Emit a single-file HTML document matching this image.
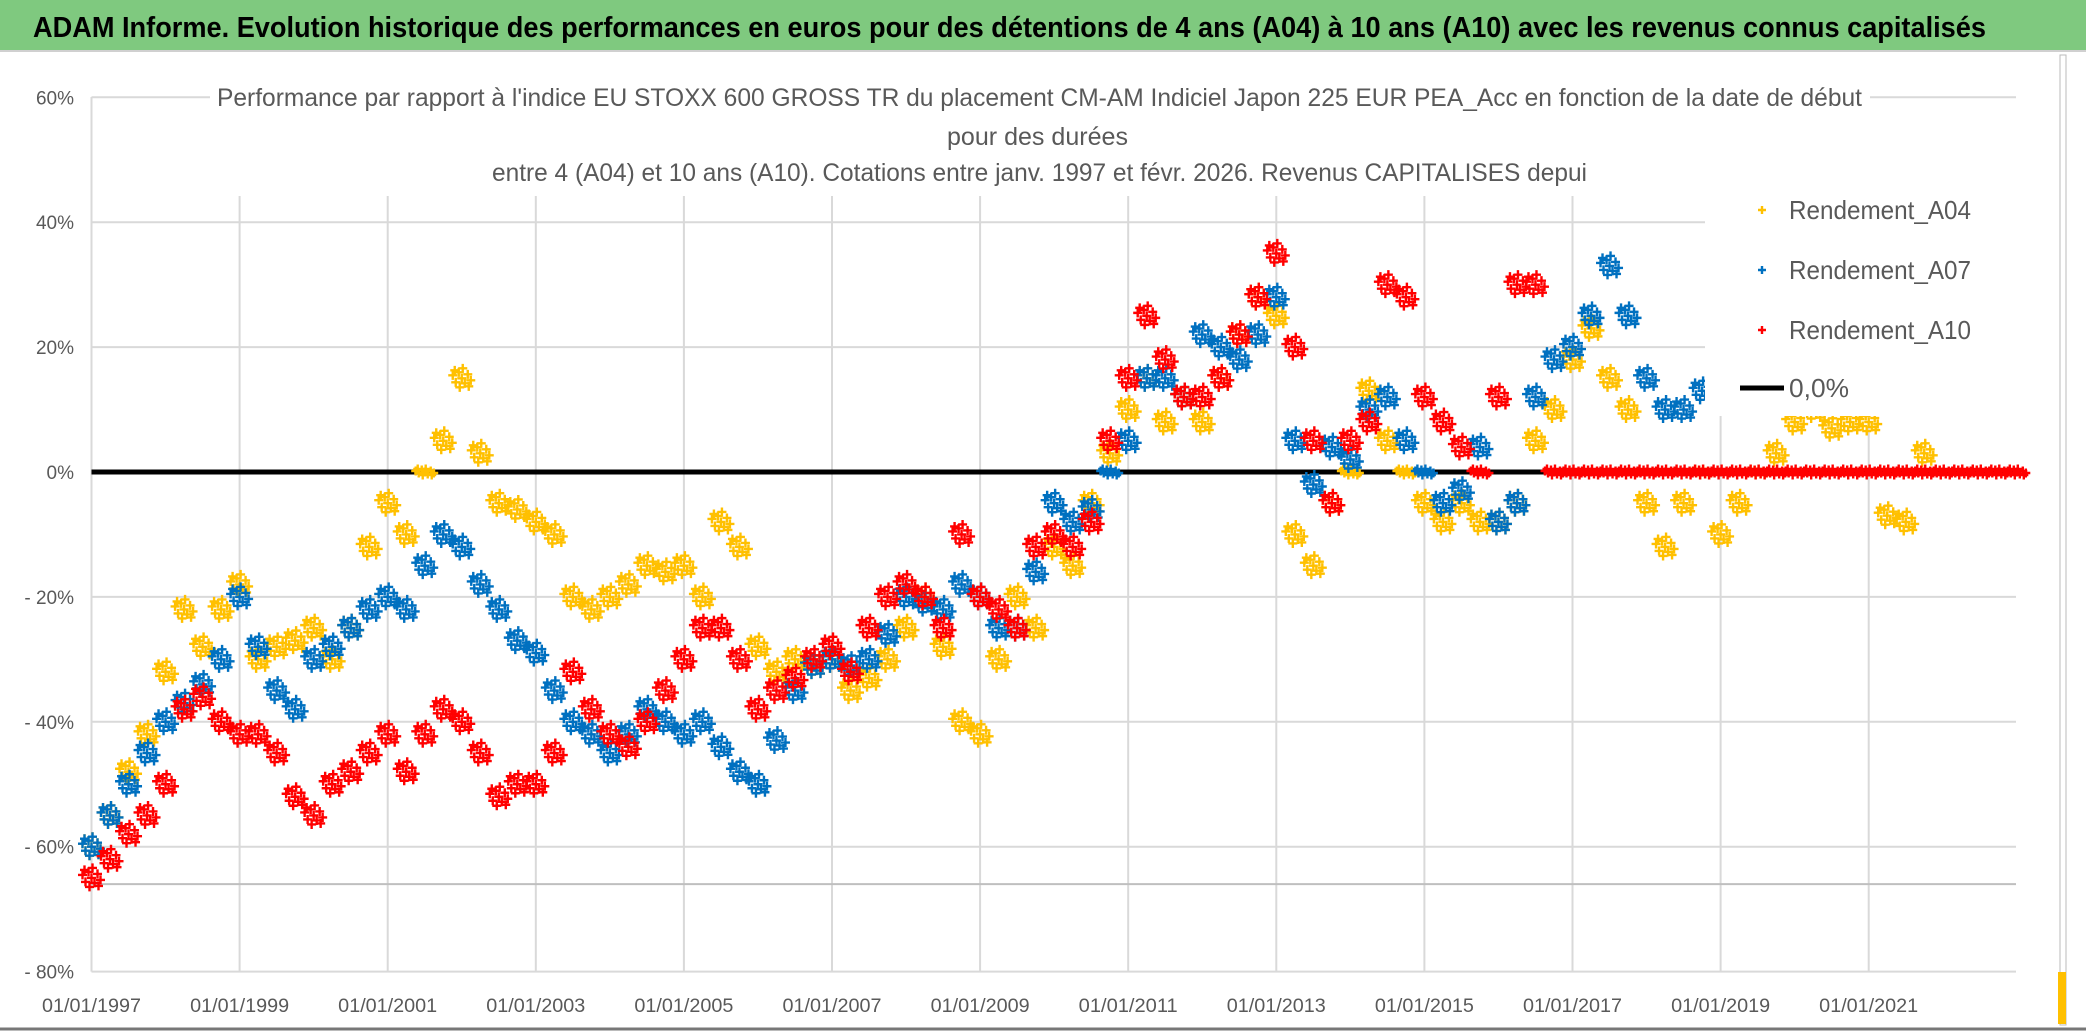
<!DOCTYPE html>
<html><head><meta charset="utf-8">
<style>
html,body{margin:0;padding:0;background:#fff;}
svg{display:block;}
text{font-family:"Liberation Sans",sans-serif;}
</style></head>
<body>
<svg id="chart" width="2086" height="1031" viewBox="0 0 2086 1031">
  <rect x="0" y="0" width="2086" height="1031" fill="#fff"/>
  <rect x="0" y="0" width="2086" height="50" fill="#7fc97f"/>
  <line x1="0" y1="51" x2="2086" y2="51" stroke="#d0d0d0" stroke-width="2"/>
  <text x="33" y="37" font-size="29" font-weight="bold" fill="#000" textLength="1953" lengthAdjust="spacingAndGlyphs">ADAM Informe. Evolution historique des performances en euros pour des détentions de 4 ans (A04) à 10 ans (A10) avec les revenus connus capitalisés</text>
  <rect x="2060" y="55" width="6" height="970" fill="#fff" stroke="#bbb" stroke-width="1"/>
  <rect x="2058" y="972" width="8" height="52" fill="#ffc000"/>
  <line x1="0" y1="1029" x2="2086" y2="1029" stroke="#777" stroke-width="3"/>
  <g id="grid"></g>
  <g id="axes"></g>
  <g id="title-block">
    <rect x="210" y="78" width="1660" height="118" fill="#fff"/>
    <text x="217" y="106" font-size="25" fill="#595959" textLength="1645" lengthAdjust="spacingAndGlyphs">Performance par rapport à l'indice EU STOXX 600 GROSS TR  du placement CM-AM Indiciel Japon 225 EUR PEA_Acc en fonction de la date de début</text>
    <text x="947" y="145" font-size="25" fill="#595959" textLength="181" lengthAdjust="spacingAndGlyphs">pour des durées</text>
    <text x="492" y="181" font-size="25" fill="#595959" textLength="1095" lengthAdjust="spacingAndGlyphs">entre 4 (A04) et 10 ans (A10). Cotations entre janv. 1997 et févr. 2026. Revenus CAPITALISES depui</text>
  </g>
  <g id="zero"></g>
  <g id="marks"></g>
  <g id="legend">
    <rect x="1705" y="190" width="311" height="226" fill="#fff"/>
  </g>
</svg>
<script>
// ---- data ----
const startYear = 1997;
const stepYears = 0.25;
const yTicks = [60, 40, 20, 0, -20, -40, -60, -80];
const yTickLabels = ["60%", "40%", "20%", "0%", "- 20%", "- 40%", "- 60%", "- 80%"];
const xTickYears = [1997, 1999, 2001, 2003, 2005, 2007, 2009, 2011, 2013, 2015, 2017, 2019, 2021];
const xTickLabels = ["01/01/1997","01/01/1999","01/01/2001","01/01/2003","01/01/2005","01/01/2007","01/01/2009","01/01/2011","01/01/2013","01/01/2015","01/01/2017","01/01/2019","01/01/2021"];
const seriesNames = ["Rendement_A04", "Rendement_A07", "Rendement_A10"];
const valuesA04 = [
 -60,-55,-48,-42, -32,-22,-28,-22, -18,-30,-28,-27, -25,-30,-25,-12,
 -5,-10,0,5, 15,3,-5,-6, -8,-10,-20,-22, -20,-18,-15,-16,
 -15,-20,-8,-12, -28,-32,-30,-31, -30,-35,-33,-30, -25,-20,-28,-40,
 -42,-30,-20,-25, -12,-15,-5,3, 10,15,8,12, 8,15,22,28,
 25,-10,-15,-5, 0,13,5,0, -5,-8,-5,-8, -8,-5,5,10,
 18,23,15,10, -5,-12,-5,0, -10,-5,0,3, 8,10,7,8, 8,-7,-8,3
];
const valuesA07 = [
 -60,-55,-50,-45, -40,-37,-34,-30, -20,-28,-35,-38, -30,-28,-25,-22,
 -20,-22,-15,-10, -12,-18,-22,-27, -29,-35,-40,-42, -45,-42,-38,-40,
 -42,-40,-44,-48, -50,-43,-35,-31, -30,-31,-30,-26, -20,-21,-22,-18,
 -20,-25,-25,-16, -5,-8,-6,0, 5,15,15,12, 22,20,18,22,
 28,5,-2,4, 2,10,12,5, 0,-5,-3,4, -8,-5,12,18,
 20,25,33,25, 15,10,10,13, 15,20
];
const valuesA10 = [
 -65,-62,-58,-55, -50,-38,-36,-40, -42,-42,-45,-52, -55,-50,-48,-45,
 -42,-48,-42,-38, -40,-45,-52,-50, -50,-45,-32,-38, -42,-44,-40,-35,
 -30,-25,-25,-30, -38,-35,-33,-30, -28,-32,-25,-20, -18,-20,-25,-10,
 -20,-22,-25,-12, -10,-12,-8,5, 15,25,18,12, 12,15,22,28,
 35,20,5,-5, 5,8,30,28, 12,8,4,0, 12,30,30,
 0,0,0,0,0, 0,0,0,0, 0,0,0,0, 0,0,0,0, 0,0,0,0, 0,0,0,0, 0
];
// ---- layout ----
const X0 = 91.5, PX_PER_YEAR = 74.05, Y0 = 472, PX_PER_PCT = 6.245, XR = 2016;
function xScale(year){ return X0 + (year - startYear) * PX_PER_YEAR; }
function yScale(v){ return Y0 - v * PX_PER_PCT; }
const NS = "http://www.w3.org/2000/svg";
function mk(tag, attrs, parent){ const e = document.createElementNS(NS, tag); for (const k in attrs) e.setAttribute(k, attrs[k]); parent.appendChild(e); return e; }

const grid = document.getElementById('grid');
const axes = document.getElementById('axes');
yTicks.forEach((t, i) => {
  const y = yScale(t);
  const gl = mk('line', {x1: X0, x2: XR, y1: y, y2: y, stroke: '#d9d9d9', 'stroke-width': 2}, grid);
  
  
  const tx = mk('text', {x: 74, y: y + 7, 'font-size': 19, fill: '#595959', 'text-anchor': 'end'}, axes);
  tx.textContent = yTickLabels[i];
  
  
});
xTickYears.forEach((yr, i) => {
  const x = xScale(yr);
  const gl = mk('line', {x1: x, x2: x, y1: 97, y2: yScale(-80), stroke: '#d9d9d9', 'stroke-width': 2}, grid);
  
  
  const tx = mk('text', {x: x, y: 1012, 'font-size': 19, fill: '#595959', 'text-anchor': 'middle', textLength: 99, lengthAdjust: 'spacingAndGlyphs'}, axes);
  tx.textContent = xTickLabels[i];
  
  
});
const ax = mk('line', {x1: X0, x2: XR, y1: yScale(-66), y2: yScale(-66), stroke: '#bfbfbf', 'stroke-width': 2}, axes);



const zl = mk('line', {x1: X0, x2: XR, y1: Y0, y2: Y0, stroke: '#000', 'stroke-width': 5}, document.getElementById('zero'));



const marks = document.getElementById('marks');
const cluster = [[-9,-3],[-6,4],[-3,-6],[0,0],[3,5],[6,-4],[9,2],[-7,-8],[7,8],[1,-10],[-2,9]];
function plus(g, cx, cy, color, s){
  return mk('path', {d: `M${cx-s},${cy}H${cx+s}M${cx},${cy-s}V${cy+s}`, stroke: color, 'stroke-width': 2.4, fill: 'none'}, g);
}
function drawSeries(vals, color, name){
  const g = mk('g', {}, marks);
  
  
  vals.forEach((v, i) => {
    const cx = xScale(startYear + i * stepYears), cy = yScale(v);
    const offs = v === 0 ? cluster.map(o => [o[0], Math.round(o[1] / 3)]) : cluster;
    offs.forEach(o => {
      const p = plus(g, cx + o[0], cy + o[1], color, 4.5);
      
      
    });
  });
}
drawSeries(valuesA04, '#ffc000', 'series-a04');
drawSeries(valuesA07, '#0070c0', 'series-a07');
drawSeries(valuesA10, '#ff0000', 'series-a10');

// legend on top
const legend = document.getElementById('legend');
marks.parentNode.appendChild(legend);
const legColors = ['#ffc000', '#0070c0', '#ff0000'];
const legY = [210, 270, 330];
seriesNames.forEach((n, i) => {
  const p = plus(legend, 1762, legY[i], legColors[i], 4);
  
  
  const t = mk('text', {x: 1789, y: legY[i] + 9, 'font-size': 26, fill: '#595959', textLength: 182, lengthAdjust: 'spacingAndGlyphs'}, legend);
  t.textContent = n;
  
  
});
const ll = mk('line', {x1: 1740, x2: 1784, y1: 388, y2: 388, stroke: '#000', 'stroke-width': 5}, legend);


const lt = mk('text', {x: 1789, y: 397, 'font-size': 26, fill: '#595959', textLength: 60, lengthAdjust: 'spacingAndGlyphs'}, legend);
lt.textContent = '0,0%';


</script>
</body></html>
